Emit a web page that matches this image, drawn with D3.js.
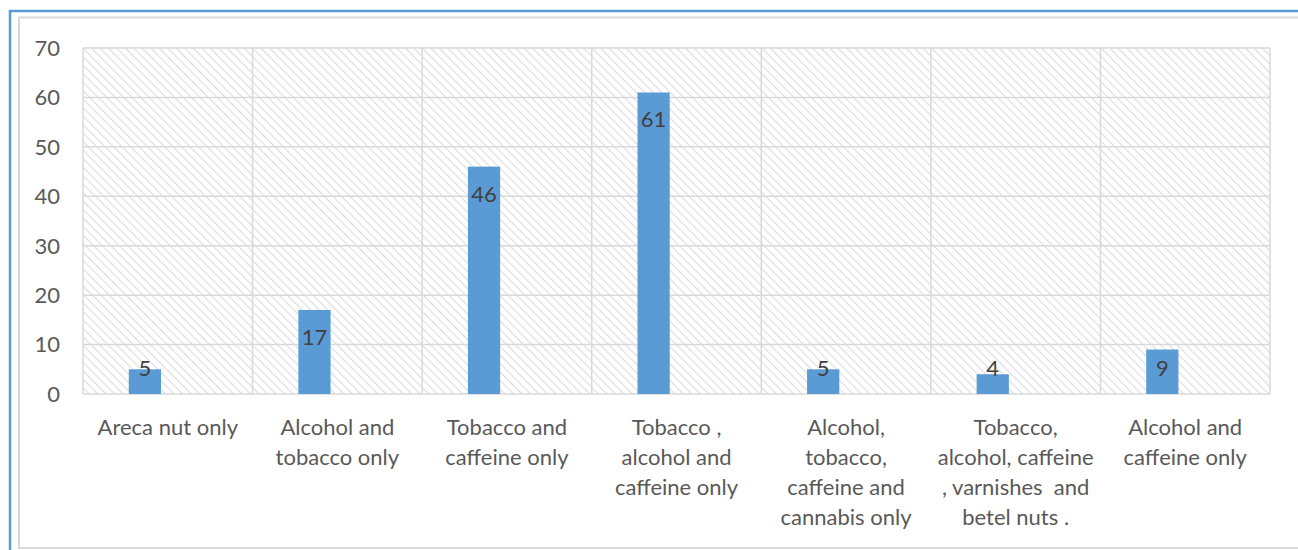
<!DOCTYPE html>
<html>
<head>
<meta charset="utf-8">
<script src="https://cdn.jsdelivr.net/npm/d3@7"></script>
<style>
  html, body { margin: 0; padding: 0; background: #fff; }
  svg { display: block; font-family: Lato, "Open Sans", sans-serif; }
</style>
</head>
<body>
<div id="chart"></div>
<script>
// substance-use combos, counts
const categories = [
  ['Areca nut only'],
  ['Alcohol and', 'tobacco only'],
  ['Tobacco and', 'caffeine only'],
  ['Tobacco ,', 'alcohol and', 'caffeine only'],
  ['Alcohol,', 'tobacco,', 'caffeine and', 'cannabis only'],
  ['Tobacco,', 'alcohol, caffeine', ', varnishes  and', 'betel nuts .'],
  ['Alcohol and', 'caffeine only']
];
const values = [5, 17, 46, 61, 5, 4, 9];
const yTicks = [0, 10, 20, 30, 40, 50, 60, 70];

const W = 1298, H = 550;
const plot = { left: 83, right: 1270, top: 48, bottom: 394 };
const FS = 22;

const svg = d3.select('#chart').append('svg')
  .attr('width', W).attr('height', H);

// diagonal hatch for plot background
const pat = svg.append('defs').append('pattern')
  .attr('id', 'hatch').attr('patternUnits', 'userSpaceOnUse')
  .attr('width', 6).attr('height', 6)
  .attr('patternTransform', 'rotate(-45)');
pat.append('rect').attr('width', 6).attr('height', 6).attr('fill', '#fff');
pat.append('line').attr('x1', 0).attr('y1', 0).attr('x2', 0).attr('y2', 6)
  .attr('stroke', '#dcdcdc').attr('stroke-width', 2.2);

// frames
svg.append('rect').attr('x', 19).attr('y', 17.5).attr('width', 1300).attr('height', 530.5)
  .attr('fill', 'none').attr('stroke', '#d9d9d9').attr('stroke-width', 2);
svg.append('rect').attr('x', 10).attr('y', 11).attr('width', 1300).attr('height', 560)
  .attr('fill', 'none').attr('stroke', '#5b9bd5').attr('stroke-width', 2.5);

const x = d3.scaleBand().domain(d3.range(categories.length))
  .range([plot.left, plot.right]).padding(0);
const y = d3.scaleLinear().domain([0, 70]).range([plot.bottom, plot.top]);

const g = svg.append('g');

g.append('rect')
  .attr('x', plot.left).attr('y', plot.top)
  .attr('width', plot.right - plot.left).attr('height', plot.bottom - plot.top)
  .attr('fill', 'url(#hatch)');

// gridlines
g.selectAll('.hgrid').data(yTicks).enter().append('line')
  .attr('x1', plot.left).attr('x2', plot.right)
  .attr('y1', d => y(d)).attr('y2', d => y(d))
  .attr('stroke', '#d9d9d9').attr('stroke-width', 1.5);
g.selectAll('.vgrid').data(d3.range(categories.length + 1)).enter().append('line')
  .attr('x1', i => plot.left + i * x.bandwidth()).attr('x2', i => plot.left + i * x.bandwidth())
  .attr('y1', plot.top).attr('y2', plot.bottom)
  .attr('stroke', '#d9d9d9').attr('stroke-width', 1.5);

// bars sit left of centre (empty second series in the original)
const bw = x.bandwidth() * 0.19;
const bOff = x.bandwidth() * 0.27;
g.selectAll('.bar').data(values).enter().append('rect')
  .attr('x', (d, i) => x(i) + bOff)
  .attr('y', d => y(d))
  .attr('width', bw)
  .attr('height', d => y(0) - y(d))
  .attr('fill', '#5b9bd5');

g.selectAll('.val').data(values).enter().append('text')
  .attr('x', (d, i) => x(i) + bOff + bw / 2)
  .attr('y', d => Math.min(y(d) + 27, y(0) - 26))
  .attr('dy', '0.36em')
  .attr('text-anchor', 'middle')
  .attr('font-size', FS).attr('fill', '#404040')
  .text(d => d);

// y axis labels
g.selectAll('.ytick').data(yTicks).enter().append('text')
  .attr('x', 60).attr('y', d => y(d)).attr('dy', '0.36em')
  .attr('text-anchor', 'end').attr('font-size', FS).attr('fill', '#595959')
  .text(d => d);

// x axis labels
const xl = g.selectAll('.xlab').data(categories).enter().append('text')
  .attr('text-anchor', 'middle').attr('font-size', FS).attr('fill', '#595959')
  .attr('transform', (d, i) => `translate(${x(i) + x.bandwidth() / 2},427)`);
xl.selectAll('tspan').data(d => d).enter().append('tspan')
  .attr('x', 0).attr('y', (d, j) => j * 30).attr('dy', '0.36em')
  .attr('xml:space', 'preserve')
  .text(d => d);
</script>
</body>
</html>
